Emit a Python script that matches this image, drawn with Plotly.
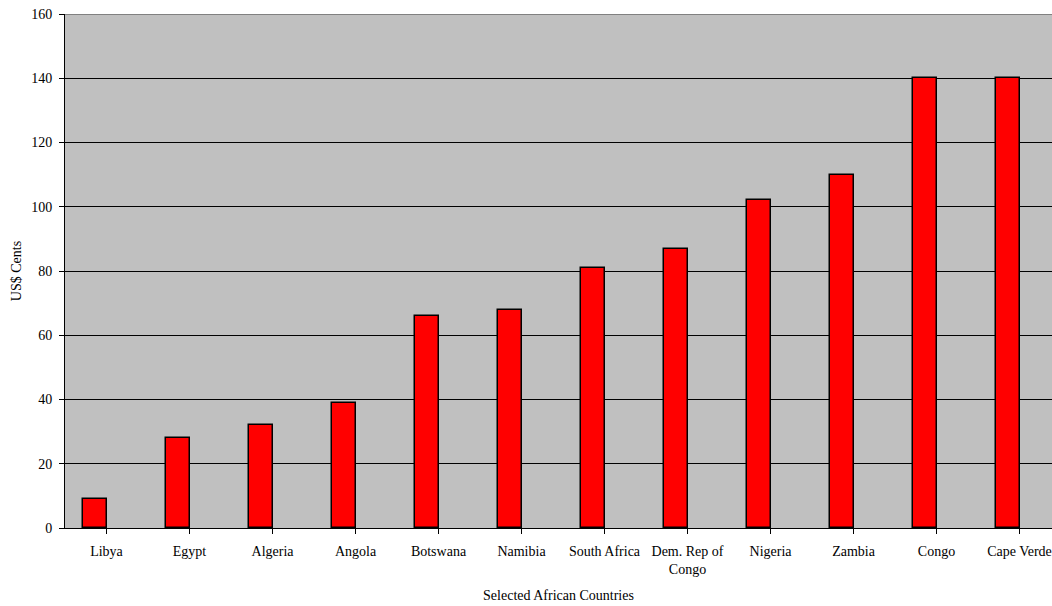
import plotly.graph_objects as go

countries = ["Libya", "Egypt", "Algeria", "Angola", "Botswana", "Namibia", "South Africa",
             "Dem. Rep of<br>Congo", "Nigeria", "Zambia", "Congo", "Cape Verde"]
values = [9, 28, 32, 39, 66, 68, 81, 87, 102, 110, 140, 140]
y_ticks = [0, 20, 40, 60, 80, 100, 120, 140, 160]

FONT = "Liberation Serif, Times New Roman, serif"

fig = go.Figure()
fig.add_trace(go.Bar(
    x=list(range(len(countries))), y=values,
    width=0.29, offset=-0.284,
    marker=dict(color="#FF0000", line=dict(color="black", width=1.5)),
))

fig.update_layout(
    width=1052, height=606,
    margin=dict(l=65, r=0, t=14, b=78),
    paper_bgcolor="white", plot_bgcolor="#C0C0C0",
    showlegend=False,
    font=dict(family=FONT, size=14, color="black"),
    bargap=0,
)
fig.update_xaxes(
    tickmode="array", tickvals=list(range(len(countries))), ticktext=countries,
    range=[-0.5, 11.5 - 9 / 83],
    showgrid=False, showline=True, linecolor="black", linewidth=1,
    ticks="outside", tickson="boundaries", ticklen=5, tickcolor="black",
    ticklabelstandoff=5,
    tickfont=dict(family=FONT, size=14),
    title=dict(text="Selected African Countries", font=dict(family=FONT, size=14), standoff=14),
    tickangle=0, automargin=False,
)
fig.update_yaxes(
    range=[0, 160], tickvals=y_ticks,
    showgrid=True, gridcolor="black", gridwidth=1,
    showline=True, linecolor="black", linewidth=1,
    ticks="outside", ticklen=5, tickcolor="black",
    ticklabelstandoff=4,
    tickfont=dict(family=FONT, size=14),
    title=dict(text="US$ Cents", font=dict(family=FONT, size=14), standoff=6),
    zeroline=False, automargin=False,
)
fig.add_shape(type="line", xref="paper", yref="y", x0=0, x1=1, y0=160, y1=160,
              line=dict(color="#808080", width=2))

fig.write_html("out.html")
